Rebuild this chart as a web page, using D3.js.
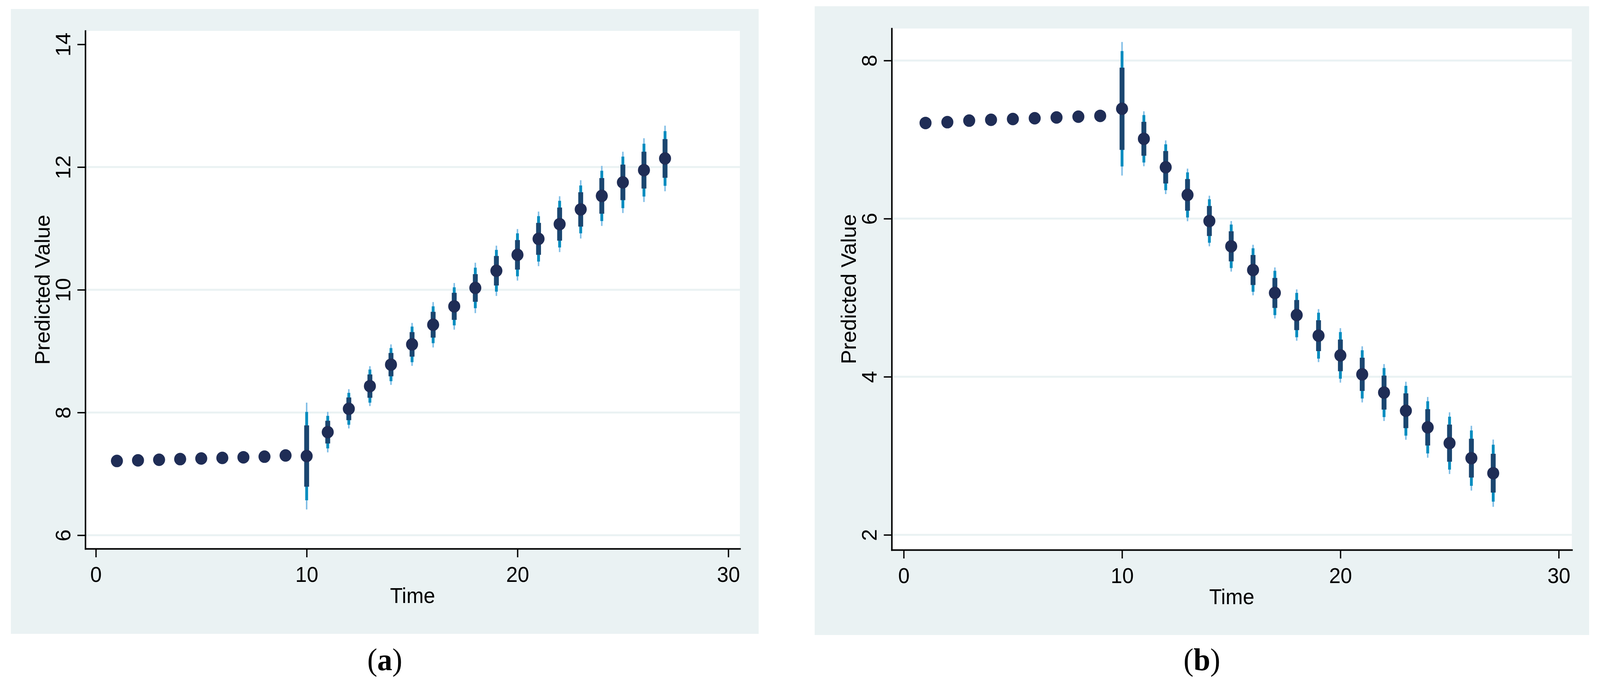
<!DOCTYPE html>
<html>
<head>
<meta charset="utf-8">
<script src="https://cdn.jsdelivr.net/npm/d3@7"></script>
<style>
  html, body { margin: 0; padding: 0; background: #fff; overflow: hidden; }
  svg { display: block; }
</style>
</head>
<body>
<div id="chart"></div>
<script>
// time points (same for both panels)
const time = [1,2,3,4,5,6,7,8,9,10,11,12,13,14,15,16,17,18,19,20,21,22,23,24,25,26,27]

// panel (a): predicted values and half-widths of the three nested intervals
const estA = [7.21,7.22,7.23,7.24,7.25,7.26,7.27,7.28,7.30,7.29,7.68,8.06,8.43,8.78,9.11,9.43,9.73,10.03,10.31,10.57,10.83,11.07,11.31,11.53,11.75,11.95,12.14]
const outerA = [0.05,0.05,0.05,0.05,0.05,0.05,0.05,0.05,0.05,0.87,0.33,0.32,0.325,0.33,0.35,0.37,0.38,0.41,0.41,0.42,0.445,0.455,0.475,0.49,0.50,0.52,0.535]
const midA = [0.04,0.04,0.04,0.04,0.04,0.04,0.04,0.04,0.04,0.72,0.265,0.26,0.27,0.27,0.29,0.30,0.31,0.33,0.34,0.35,0.37,0.38,0.39,0.41,0.42,0.43,0.445]
const innerA = [0.03,0.03,0.03,0.03,0.03,0.03,0.03,0.03,0.03,0.50,0.185,0.185,0.19,0.19,0.20,0.21,0.22,0.225,0.24,0.24,0.26,0.27,0.28,0.29,0.29,0.30,0.315]

// panel (b)
const estB = [7.21,7.22,7.24,7.25,7.26,7.27,7.28,7.29,7.30,7.39,7.01,6.65,6.30,5.97,5.65,5.35,5.06,4.78,4.52,4.27,4.03,3.80,3.57,3.36,3.16,2.97,2.78]
const outerB = [0.05,0.05,0.05,0.05,0.05,0.05,0.05,0.05,0.05,0.845,0.348,0.34,0.333,0.32,0.32,0.32,0.323,0.325,0.335,0.345,0.355,0.36,0.367,0.384,0.39,0.41,0.425]
const midB = [0.04,0.04,0.04,0.04,0.04,0.04,0.04,0.04,0.04,0.73,0.30,0.29,0.285,0.275,0.275,0.275,0.28,0.28,0.29,0.295,0.305,0.31,0.315,0.33,0.335,0.35,0.36]
const innerB = [0.03,0.03,0.03,0.03,0.03,0.03,0.03,0.03,0.03,0.52,0.214,0.205,0.20,0.19,0.19,0.19,0.19,0.19,0.195,0.20,0.21,0.215,0.22,0.23,0.235,0.245,0.245]

const xTicks = [0,10,20,30]
const yTicksA = [6,8,10,12,14]
const gridA = [6,8,10,12]
const yTicksB = [2,4,6,8]
const gridB = [2,4,6,8]

const W = 4258, H = 1754
const BG = '#eaf2f3', GRID = '#eaf2f3'
const C_OUTER = '#80bee6', C_MID = '#028cbf', C_INNER = '#1b4670', C_DOT = '#1f2d56'
const FONT = '"Liberation Sans", Arial, Helvetica, sans-serif'

// drawn in a fixed 4258x1754 frame, stretched to the window
const svg = d3.select('#chart').append('svg')
    .attr('viewBox', `0 0 ${W} ${H}`)
    .attr('preserveAspectRatio', 'none')
    .style('width', '100vw')
    .style('height', '100vh')

const panels = [
  {label: 'a', est: estA, outer: outerA, mid: midA, inner: innerA, yTicks: yTicksA, grid: gridA,
   box: {x: 29, y: 23, w: 1990, h: 1600},
   plot: {x: 227, y: 79, w: 1742, h: 1326},
   xDom: [-0.5, 30.55], yDom: [5.78, 14.22]},
  {label: 'b', est: estB, outer: outerB, mid: midB, inner: innerB, yTicks: yTicksB, grid: gridB,
   box: {x: 2168, y: 16, w: 2061, h: 1610},
   plot: {x: 2373, y: 73, w: 1810, h: 1335},
   xDom: [-0.55, 30.6], yDom: [1.81, 8.405]}
]

panels.forEach(p => {
  const g = svg.append('g')
  const pl = p.plot

  g.append('rect')
      .attr('x', p.box.x).attr('y', p.box.y)
      .attr('width', p.box.w).attr('height', p.box.h)
      .attr('fill', BG)
  g.append('rect')
      .attr('x', pl.x).attr('y', pl.y)
      .attr('width', pl.w).attr('height', pl.h)
      .attr('fill', '#fff')

  const x = d3.scaleLinear().domain(p.xDom).range([pl.x, pl.x + pl.w])
  const y = d3.scaleLinear().domain(p.yDom).range([pl.y + pl.h, pl.y])

  // gridlines
  g.selectAll('.grid').data(p.grid).join('line')
      .attr('x1', pl.x).attr('x2', pl.x + pl.w)
      .attr('y1', d => y(d)).attr('y2', d => y(d))
      .attr('stroke', GRID).attr('stroke-width', 5)

  const data = time.map((t, i) => ({t: t, v: p.est[i], o: p.outer[i], m: p.mid[i], n: p.inner[i]}))

  // intervals: outer (thin), middle, inner (thick)
  const bars = [['o', C_OUTER, 4], ['m', C_MID, 7.5], ['n', C_INNER, 13]]
  bars.forEach(([k, col, sw]) => {
    g.selectAll('.ci-' + k).data(data).join('line')
        .attr('class', 'ci-' + k)
        .attr('x1', d => x(d.t)).attr('x2', d => x(d.t))
        .attr('y1', d => y(d.v + d[k])).attr('y2', d => y(d.v - d[k]))
        .attr('stroke', col).attr('stroke-width', sw)
  })

  g.selectAll('.dot').data(data).join('circle')
      .attr('class', 'dot')
      .attr('cx', d => x(d.t)).attr('cy', d => y(d.v))
      .attr('r', 16)
      .attr('fill', C_DOT)

  // y axis
  const ya = g.append('g')
      .attr('transform', `translate(${pl.x},0)`)
      .call(d3.axisLeft(y).tickValues(p.yTicks).tickSize(21).tickSizeOuter(0).tickFormat(d3.format('d')))
  ya.select('.domain').attr('stroke', '#000').attr('stroke-width', 4).attr('stroke-linecap', 'square')
  ya.selectAll('.tick line').attr('stroke', '#000').attr('stroke-width', 3.5)
  ya.selectAll('text')
      .attr('x', null).attr('dy', null)
      .attr('text-anchor', 'middle')
      .attr('transform', 'translate(-40,0) rotate(-90)')
      .attr('fill', '#000')
      .style('font-family', FONT).style('font-size', '55px')

  // x axis
  const xa = g.append('g')
      .attr('transform', `translate(0,${pl.y + pl.h})`)
      .call(d3.axisBottom(x).tickValues(xTicks).tickSize(22).tickSizeOuter(0))
  xa.select('.domain').attr('stroke', '#000').attr('stroke-width', 4).attr('stroke-linecap', 'square')
  xa.selectAll('.tick line').attr('stroke', '#000').attr('stroke-width', 3.5)
  xa.selectAll('text')
      .attr('y', 46).attr('dy', '0.71em')
      .attr('fill', '#000')
      .style('font-family', FONT).style('font-size', '55px')

  // axis titles
  g.append('text')
      .attr('x', pl.x + pl.w / 2).attr('y', pl.y + pl.h + 139)
      .attr('text-anchor', 'middle')
      .style('font-family', FONT).style('font-size', '55px')
      .text('Time')
  g.append('text')
      .attr('transform', `translate(${pl.x - 95},${pl.y + pl.h / 2}) rotate(-90)`)
      .attr('text-anchor', 'middle')
      .style('font-family', FONT).style('font-size', '55px')
      .text('Predicted Value')

  // panel caption
  const cap = g.append('text')
      .attr('x', p.box.x + p.box.w / 2).attr('y', 1716)
      .attr('text-anchor', 'middle')
      .style('font-family', '"Liberation Serif", "Times New Roman", serif')
      .style('font-size', '80px')
  cap.append('tspan').text('(')
  cap.append('tspan').attr('font-weight', 'bold').text(p.label)
  cap.append('tspan').text(')')
})
</script>
</body>
</html>
